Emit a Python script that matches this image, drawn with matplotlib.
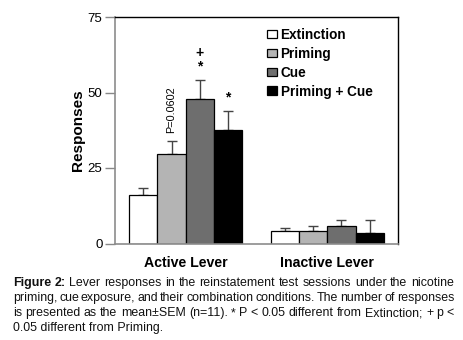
import matplotlib
matplotlib.use("Agg")
import matplotlib.pyplot as plt
import numpy as np

plt.rcParams['font.family'] = ['Liberation Sans', 'DejaVu Sans']

groups = ["Active Lever", "Inactive Lever"]
conditions = ["Extinction", "Priming", "Cue", "Priming + Cue"]
means = {
    "Extinction":    [16.0, 4.1],
    "Priming":       [29.7, 4.1],
    "Cue":           [47.8, 5.7],
    "Priming + Cue": [37.7, 3.6],
}
sems = {
    "Extinction":    [2.4, 1.1],
    "Priming":       [4.3, 1.6],
    "Cue":           [6.5, 2.0],
    "Priming + Cue": [6.3, 4.1],
}
colors = ["#ffffff", "#b4b4b4", "#6e6e6e", "#000000"]
yticks = [0, 25, 50, 75]

caption_lines = [
    "Figure 2: Lever responses in the reinstatement test sessions under the nicotine",
    "priming, cue exposure, and their combination conditions. The number of responses",
    "is presented as the mean\u00b1SEM (n=11). * P < 0.05 different from Extinction; + p <",
    "0.05 different from Priming.",
]

W, H = 463, 340
fig = plt.figure(figsize=(W / 100, H / 100), dpi=100)
ax = fig.add_axes([115 / W, 1 - 243.5 / H, (398 - 115) / W, (243.5 - 17) / H])

x = np.arange(len(groups))
width = 0.2
handles = []
for i, (cond, col) in enumerate(zip(conditions, colors)):
    pos = x + (i - 1.5) * width
    b = ax.bar(pos, means[cond], width, color=col, edgecolor="black", linewidth=0.9,
               label=cond, zorder=2)
    ax.errorbar(pos, means[cond], yerr=[np.zeros(len(groups)), sems[cond]], fmt="none",
                ecolor="#444444", elinewidth=1.0, capsize=3.5, capthick=1.0, zorder=1)
    handles.append(b)

ax.set_xlim(-0.5, 1.5)
ax.set_ylim(0, 75)
ax.set_yticks(yticks)
ax.set_yticklabels([str(t) for t in yticks], fontsize=9.5)
ax.set_xticks(x)
ax.set_xticklabels(groups, fontsize=10.2, fontweight="bold")
ax.tick_params(axis="x", length=0, pad=9)
ax.tick_params(axis="y", length=7, width=1, color="#888888", pad=2)
ax.set_ylabel("Responses", fontsize=11, fontweight="bold", labelpad=2)

for s in ["left", "bottom"]:
    ax.spines[s].set_color("#8c8c8c")
    ax.spines[s].set_linewidth(1.2)
for s in ["top", "right"]:
    ax.spines[s].set_color("black")
    ax.spines[s].set_linewidth(1.0)

# annotations
ax.text(x[0] - 0.5 * width, 36.5, "P=0.0602", rotation=90, ha="center", va="bottom",
        fontsize=7.8)
ax.text(x[0] + 0.5 * width, 58.7, "*", ha="center", va="center", fontsize=10, fontweight="bold")
ax.text(x[0] + 0.5 * width, 63.0, "+", ha="center", va="center", fontsize=10, fontweight="bold")
ax.text(x[0] + 1.5 * width, 48.4, "*", ha="center", va="center", fontsize=10, fontweight="bold")

leg = ax.legend(handles=handles, labels=conditions, loc="upper left",
                bbox_to_anchor=(0.537, 0.952), frameon=False,
                prop={"weight": "bold", "size": 9.8},
                handlelength=0.75, handleheight=0.6, handletextpad=0.25,
                labelspacing=0.36, borderpad=0, borderaxespad=0)

# caption (first three lines justified)
fig.canvas.draw()
renderer = fig.canvas.get_renderer()
x0, x1 = 12.7, 454.0
ys = [282.7, 298.0, 313.0, 328.0]
cap_size = 8.9
for li, (line, yc) in enumerate(zip(caption_lines, ys)):
    if li == 3:
        fig.text(x0 / W, 1 - yc / H, line, fontsize=cap_size, va="center", ha="left",
                 color="#111111")
        continue
    words = line.split(" ")
    weights = ["normal"] * len(words)
    if li == 0:
        weights[0] = "bold"
        weights[1] = "bold"
    texts = []
    for w, wt in zip(words, weights):
        t = fig.text(0, 1 - yc / H, w, fontsize=cap_size, fontweight=wt, va="center",
                     ha="left", color="#111111")
        texts.append(t)
    widths = [t.get_window_extent(renderer).width for t in texts]
    gap = (x1 - x0 - sum(widths)) / (len(words) - 1)
    cx = x0
    for t, w in zip(texts, widths):
        t.set_x(cx / W)
        cx += w + gap

fig.savefig("out.png", dpi=100)
